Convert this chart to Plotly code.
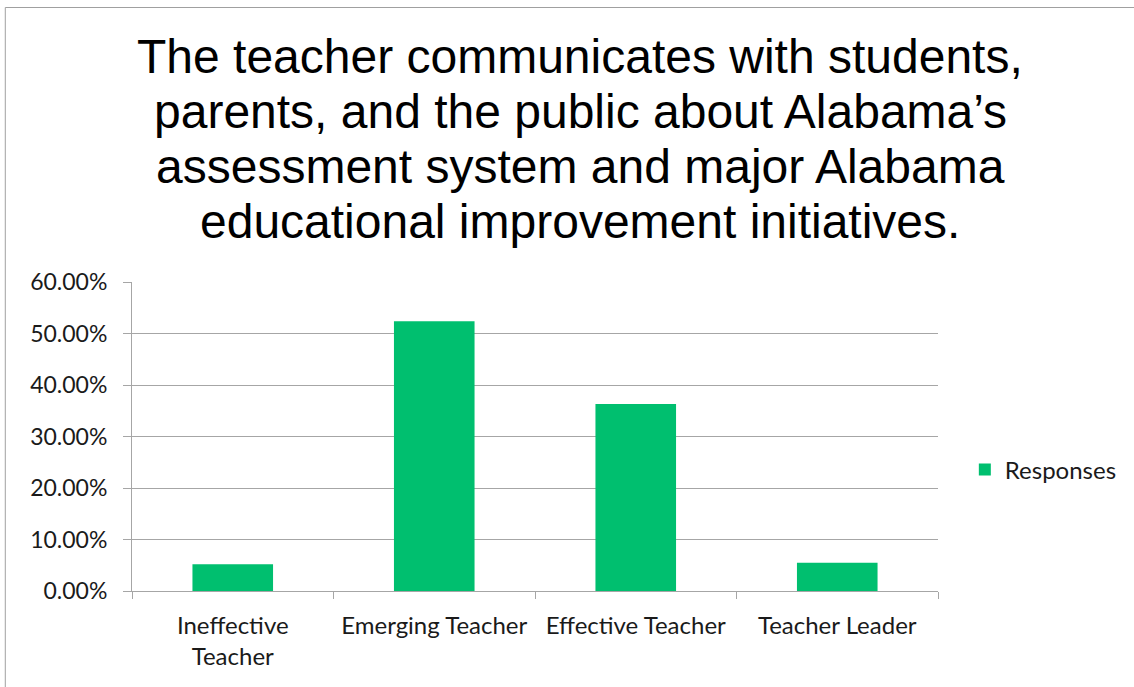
import plotly.graph_objects as go

categories = ["Ineffective<br>Teacher", "Emerging Teacher", "Effective Teacher", "Teacher Leader"]
responses = [0.052, 0.524, 0.363, 0.055]
tick_vals = [0, 0.1, 0.2, 0.3, 0.4, 0.5, 0.6]
tick_text = ["0.00%", "10.00%", "20.00%", "30.00%", "40.00%", "50.00%", "60.00%"]
title_lines = ["The teacher communicates with students,",
               "parents, and the public about Alabama’s",
               "assessment system and major Alabama",
               "educational improvement initiatives."]

W, H = 1134, 687
# plot area in page pixels
PX0, PX1, PY0, PY1 = 132, 943, 282, 591
L, T = PX0, PY0
R, B = W - PX1, H - PY1
pw, ph = PX1 - PX0, PY1 - PY0


def xp(px):
    return (px - PX0) / pw


def yp(py):
    return (PY1 - py) / ph


fig = go.Figure()
fig.add_trace(go.Bar(x=categories, y=responses, name="Responses",
                     marker=dict(color="#00BF6F", line=dict(width=0)), width=0.4))

grid = "#a6a6a6"
fig.update_layout(
    width=W, height=H,
    margin=dict(l=L, r=R, t=T, b=B),
    paper_bgcolor="white", plot_bgcolor="white",
    font=dict(family="Lato, Open Sans, sans-serif", size=23, color="#1a1a1a"),
    showlegend=True,
    legend=dict(x=xp(970), xanchor="left", y=yp(470), yanchor="middle",
                font=dict(size=24), itemwidth=30, bgcolor="rgba(0,0,0,0)"),
    xaxis=dict(showline=True, linecolor=grid, linewidth=1, ticks="outside", tickson="boundaries",
               ticklen=7, tickcolor=grid, showgrid=False, fixedrange=True,
               tickfont=dict(size=24), ticklabelstandoff=13),
    yaxis=dict(range=[0, 0.6], tickvals=tick_vals, ticktext=tick_text, showline=True,
               linecolor=grid, linewidth=1, ticks="outside", ticklen=8, tickcolor=grid,
               gridcolor=grid, gridwidth=1, zeroline=False, ticklabelstandoff=11,
               tickfont=dict(size=23), fixedrange=True),
)

# title, one annotation per line to match line spacing
title_centers_y = [56, 111, 166, 221]
for line, cy in zip(title_lines, title_centers_y):
    fig.add_annotation(text=line, xref="paper", yref="paper", x=xp(583), y=yp(cy),
                       xanchor="center", yanchor="middle", showarrow=False,
                       font=dict(family="Liberation Sans, Arial, sans-serif", size=48, color="black"))

# outer chart border (only left and top edges visible)
fig.add_shape(type="line", xref="paper", yref="paper",
              x0=xp(4.5), x1=xp(4.5), y0=yp(700), y1=yp(7.5),
              line=dict(color="#a0a0a0", width=1), layer="below")
fig.add_shape(type="line", xref="paper", yref="paper",
              x0=xp(4.5), x1=xp(1150), y0=yp(7.5), y1=yp(7.5),
              line=dict(color="#a0a0a0", width=1), layer="below")

fig.write_html("out.html", config={"displayModeBar": False},
               post_script="document.body.style.margin='0';")
